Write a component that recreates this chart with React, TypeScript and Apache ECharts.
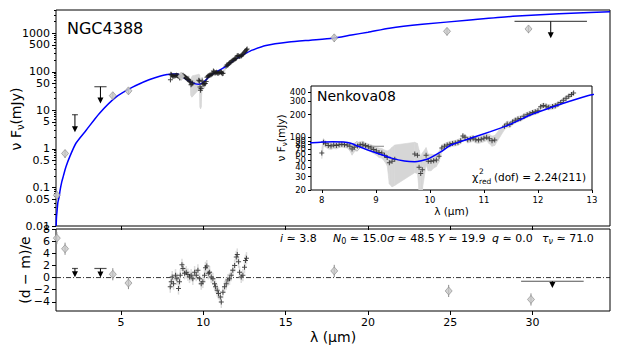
import React, { useEffect, useRef } from "react";
import * as echarts from "echarts";

const FONT = "DejaVu Sans";

// ---- model SED (Nenkova08 fit) ----
const modelLam = [1.06, 1.08, 1.12, 1.16, 1.24, 1.3, 1.4, 1.5, 1.65, 1.9, 2.26, 2.87, 3.67, 4.69, 5.7, 6.7, 7.4, 7.8, 8.0, 8.2, 8.4, 8.55, 8.67, 8.85, 9.04, 9.29, 9.53, 9.72, 9.96, 10.2, 10.39, 10.75, 11.12, 11.49, 11.86, 12.23, 12.6, 12.97, 13.8, 15.2, 16.5, 17.85, 19.0, 20.0, 21.3, 23.3, 26.2, 28.8, 31.6, 34.7];
const modelFlux = [0.01, 0.017, 0.026, 0.04, 0.057, 0.085, 0.14, 0.2, 0.34, 0.65, 1.4, 3.0, 8.2, 22, 40, 62, 78, 85, 86.5, 87.5, 87, 83, 76, 68, 61, 53, 48.5, 47.5, 51.5, 64, 79, 97, 119, 149, 198, 247, 303, 364, 480, 590, 660, 740, 900, 1060, 1350, 1700, 2200, 2750, 3200, 3600];

// ---- IRS spectrum ----
const specLam = [8.0, 8.03, 8.07, 8.12, 8.17, 8.22, 8.27, 8.32, 8.37, 8.42, 8.47, 8.52, 8.56, 8.6, 8.66, 8.71, 8.76, 8.81, 8.86, 8.91, 8.96, 9.01, 9.06, 9.11, 9.16, 9.21, 9.25, 9.3, 9.35, 9.72, 9.77, 9.8, 9.83, 9.86, 9.93, 9.97, 10.02, 10.07, 10.12, 10.17, 10.22, 10.27, 10.32, 10.37, 10.42, 10.47, 10.52, 10.57, 10.61, 10.65, 10.7, 10.75, 10.8, 10.85, 10.9, 10.95, 11.0, 11.05, 11.1, 11.15, 11.2, 11.38, 11.43, 11.48, 11.53, 11.58, 11.63, 11.68, 11.74, 11.8, 11.85, 11.9, 11.95, 12.0, 12.05, 12.1, 12.15, 12.2, 12.27, 12.32, 12.37, 12.42, 12.47, 12.52, 12.57, 12.62, 12.66];
const specFlux = [62, 86, 82, 78, 77, 79, 78, 80, 81, 80, 79, 76, 70, 74, 77, 80, 81, 78, 75, 72, 69, 66, 63, 62, 58, 54, 46, 48, 51, 60, 58, 40, 33, 37, 58, 48, 48, 49, 50, 56, 72, 76, 79, 81, 83, 84, 86, 90, 104, 100, 93, 95, 97, 93, 92, 94, 97, 100, 96, 90, 92, 140, 150, 148, 160, 168, 175, 178, 190, 200, 206, 213, 218, 225, 255, 265, 258, 250, 256, 262, 275, 290, 310, 330, 350, 370, 388];
const specErr = [10, 10, 8, 8, 8, 8, 8, 7, 7, 7, 7, 10, 12, 10, 8, 8, 8, 7, 7, 8, 8, 8, 9, 9, 10, 12, 22, 26, 28, 26, 25, 28, 22, 25, 15, 12, 12, 10, 9, 9, 8, 7, 7, 7, 7, 7, 8, 8, 9, 9, 9, 9, 9, 9, 9, 9, 10, 10, 14, 14, 14, 14, 14, 14, 14, 14, 15, 15, 16, 16, 16, 17, 17, 18, 20, 20, 20, 20, 20, 22, 22, 22, 24, 25, 25, 26, 27];

// ---- photometry ----
const photLam = [1.1, 1.6, 4.5, 5.45, 17.95, 24.8, 29.75];
const photFlux = [0.063, 0.76, 24, 32, 760, 1120, 1290];
const photErr = [0.015, 0.18, 5, 6, 170, 250, 290];
const irsPhotLam = [8.65];
const irsPhotFlux = [76];
const irsPhotLo = [8.62];
const irsPhotHi = [9.15];

// ---- upper limits ----
const limLam = [2.2, 3.75, 31.1];
const limFlux = [7.7, 41, 2020];
const limTip = [2.7, 15, 740];
const limHalfWidth = [0.18, 0.37, 2.2];

// ---- residuals ----
const resPhotLam = [1.1, 1.6, 4.5, 5.45, 17.95, 24.9, 29.9];
const resPhotVal = [6.5, 4.75, 0.55, -0.9, 1.1, -2.2, -3.6];
const resLimLam = [2.2, 3.75, 31.2];
const resLimVal = [1.5, 1.5, -0.6];
const resLimTip = [0.05, 0.0, -1.7];
const resLimHalfWidth = [0.18, 0.37, 1.9];
const resSpecLam = [7.99, 8.05, 8.11, 8.19, 8.31, 8.39, 8.49, 8.55, 8.6, 8.7, 8.76, 8.86, 8.96, 9.06, 9.16, 9.26, 9.36, 9.47, 9.57, 9.67, 9.77, 9.87, 9.97, 10.07, 10.13, 10.21, 10.3, 10.38, 10.48, 10.58, 10.68, 10.74, 10.84, 10.92, 11.03, 11.09, 11.19, 11.29, 11.39, 11.49, 11.59, 11.69, 11.79, 11.9, 12.0, 12.06, 12.14, 12.2, 12.3, 12.4, 12.5, 12.56, 12.62];
const resSpecVal = [-1.5, -0.7, 0.1, -1.0, 0.4, -0.2, -1.8, -0.7, 0.4, 2.1, 1.5, 0.7, 0.9, 0.5, 0.1, 0.4, -0.2, 0.9, 0.4, 1.2, -0.2, -1.0, -0.7, 0.4, 1.6, 1.9, 0.7, 0.9, 0.1, -0.2, -1.0, -1.5, -2.1, -2.6, -3.2, -4.0, -2.4, -1.5, -1.0, -0.4, -0.2, 0.4, 1.2, 2.0, 3.4, 3.8, 2.6, 0.9, 0.1, 0.4, 1.7, 2.8, 3.2];

// ---- ticks ----
const xTicks = [5, 10, 15, 20, 25, 30];
const mainYTicks = [0.01, 0.05, 0.1, 0.5, 1, 5, 10, 50, 100, 500, 1000];
const insetXTicks = [8, 9, 10, 11, 12, 13];
const insetYTicks = [20, 30, 40, 50, 60, 70, 80, 90, 100, 200, 300, 400];
const resYTicks = [-4, -2, 0, 2, 4, 6, 8];

const MAIN_YMIN = 0.01, MAIN_YMAX = 4000;
const INS_YMIN = 20, INS_YMAX = 480;
const XMIN = 1.05, XMAX = 34.7;

const minorTicks: number[] = [];
for (let n = -2; n <= 3; n++) for (let k = 2; k <= 9; k++) {
  const v = Math.log10(k * Math.pow(10, n));
  if (v <= Math.log10(MAIN_YMAX) + 1e-9) minorTicks.push(v);
}

const PLUS = "path://M2,0h1v2h2v1h-2v2h-1v-2h-2v-1h2z";

function bandRender(floor: number, ceil: number) {
  return (params: any, api: any) => {
    const c = (x: number, y: number) => api.coord([x, Math.min(Math.max(y, floor), ceil)]);
    const a = c(api.value(0), api.value(1));
    const b = c(api.value(3), api.value(4));
    const d = c(api.value(3), api.value(5));
    const e = c(api.value(0), api.value(2));
    return { type: "polygon", shape: { points: [a, b, d, e] }, style: { fill: "#d6d6d6", stroke: "#d6d6d6", lineWidth: 0.6 } };
  };
}
function bandData(floor: number) {
  const out: number[][] = [];
  for (let i = 0; i < specLam.length - 1; i++) {
    out.push([specLam[i], Math.max(specFlux[i] - specErr[i], floor), specFlux[i] + specErr[i],
      specLam[i + 1], Math.max(specFlux[i + 1] - specErr[i + 1], floor), specFlux[i + 1] + specErr[i + 1]]);
  }
  return out;
}
function vbarRender(color: string, width: number) {
  return (params: any, api: any) => {
    const p = api.coord([api.value(0), api.value(1)]);
    const q = api.coord([api.value(0), api.value(2)]);
    return { type: "line", shape: { x1: p[0], y1: p[1], x2: q[0], y2: q[1] }, style: { stroke: color, lineWidth: width } };
  };
}
function hbarRender(color: string, width: number) {
  return (params: any, api: any) => {
    const p = api.coord([api.value(0), api.value(2)]);
    const q = api.coord([api.value(1), api.value(2)]);
    return { type: "line", shape: { x1: p[0], y1: p[1], x2: q[0], y2: q[1] }, style: { stroke: color, lineWidth: width } };
  };
}
function limitRender(params: any, api: any) {
  const x = api.value(0), y = api.value(1), tip = api.value(2), hw = api.value(3);
  const p = api.coord([x, y]);
  const t = api.coord([x, tip]);
  const l = api.coord([x - hw, y]);
  const r = api.coord([x + hw, y]);
  return {
    type: "group",
    children: [
      { type: "line", shape: { x1: l[0], y1: l[1], x2: r[0], y2: r[1] }, style: { stroke: "#555", lineWidth: 1.2 } },
      { type: "line", shape: { x1: p[0], y1: p[1], x2: t[0], y2: t[1] - 5 }, style: { stroke: "#000", lineWidth: 1 } },
      { type: "polygon", shape: { points: [[t[0] - 3, t[1] - 6], [t[0] + 3, t[1] - 6], [t[0], t[1]]] }, style: { fill: "#000" } },
    ],
  };
}

const diamondStyle = { color: "#c8c8c8", borderColor: "#8a8a8a", borderWidth: 0.8 };
const tickLabel = { color: "#000", fontFamily: FONT, fontSize: 11 };
const insetLabel = { color: "#000", fontFamily: FONT, fontSize: 8.5 };
const noLine = { show: false, onZero: false };

function rotatedTitle(text: string, x: number, y: number, size: number, rich?: any) {
  return {
    type: "text", x, y, rotation: Math.PI / 2, z: 100,
    style: { text, fontFamily: FONT, fontSize: size, fill: "#000", align: "center", verticalAlign: "middle", lineHeight: size * 1.3, rich },
  };
}

function buildOption() {
  const model = modelLam.map((l, i) => [l, modelFlux[i]]);
  const spec = specLam.map((l, i) => [l, specFlux[i]]);
  const phot = photLam.map((l, i) => [l, photFlux[i]]);
  const photBars = photLam.map((l, i) => [l, photFlux[i] - photErr[i], photFlux[i] + photErr[i]]);
  const lims = limLam.map((l, i) => [l, limFlux[i], limTip[i], limHalfWidth[i]]);
  const irs = irsPhotLam.map((l, i) => [l, irsPhotFlux[i]]);
  const irsBar = irsPhotLam.map((l, i) => [irsPhotLo[i], irsPhotHi[i], irsPhotFlux[i]]);
  const resPhot = resPhotLam.map((l, i) => [l, resPhotVal[i]]);
  const resPhotBars = resPhotLam.map((l, i) => [l, resPhotVal[i] - 1, resPhotVal[i] + 1]);
  const resLims = resLimLam.map((l, i) => [l, resLimVal[i], resLimTip[i], resLimHalfWidth[i]]);
  const resSpec = resSpecLam.map((l, i) => [l, resSpecVal[i]]);
  const resSpecBars = resSpecLam.map((l, i) => [l, resSpecVal[i] - 1, resSpecVal[i] + 1]);

  const subRich = (size: number) => ({ s: { fontFamily: FONT, fontSize: size * 0.7, lineHeight: size * 0.7, verticalAlign: "bottom", fill: "#000" } });
  const gridBase = { show: true, borderColor: "#000", borderWidth: 1, outerBoundsMode: "none", containLabel: false };

  return {
    animation: false,
    textStyle: { fontFamily: FONT },
    grid: [
      { ...gridBase, left: 56, top: 10, width: 554, height: 216, backgroundColor: "transparent" },
      { ...gridBase, left: 56, top: 229, width: 554, height: 82, backgroundColor: "transparent" },
      { ...gridBase, left: 311, top: 86, width: 281, height: 104, backgroundColor: "#fff" },
    ],
    xAxis: [
      { gridIndex: 0, type: "value", position: "bottom", min: XMIN, max: XMAX, axisLine: noLine, splitLine: { show: false },
        axisLabel: { show: false }, axisTick: { show: true, length: 4, customValues: xTicks, lineStyle: { color: "#000" } } },
      { gridIndex: 1, type: "value", position: "bottom", min: XMIN, max: XMAX, axisLine: noLine, splitLine: { show: false },
        axisLabel: { ...tickLabel, customValues: xTicks, margin: 6 },
        axisTick: { show: true, length: 4, customValues: xTicks, lineStyle: { color: "#000" } },
        name: "λ (μm)", nameLocation: "middle", nameGap: 19, nameTextStyle: { fontFamily: FONT, fontSize: 14, color: "#000" } },
      { gridIndex: 2, type: "value", position: "bottom", min: 7.8, max: 13, axisLine: noLine, splitLine: { show: false },
        axisLabel: { ...insetLabel, customValues: insetXTicks, margin: 5 },
        axisTick: { show: true, length: 3, customValues: insetXTicks, lineStyle: { color: "#000" } },
        name: "λ (μm)", nameLocation: "middle", nameGap: 15, nameTextStyle: { fontFamily: FONT, fontSize: 10.5, color: "#000" } },
    ],
    yAxis: [
      { gridIndex: 0, type: "log", logBase: 10, position: "left", min: MAIN_YMIN, max: MAIN_YMAX, show: false, axisLine: noLine },
      { gridIndex: 0, type: "value", position: "left", offset: 0, min: -2, max: Math.log10(MAIN_YMAX), axisLine: noLine, splitLine: { show: false },
        axisLabel: { ...tickLabel, customValues: mainYTicks.map(Math.log10), margin: 6,
          formatter: (v: number) => String(Number(Math.pow(10, v).toPrecision(1))) },
        axisTick: { show: true, length: 4, customValues: mainYTicks.map(Math.log10), lineStyle: { color: "#000" } } },
      { gridIndex: 0, type: "value", position: "left", offset: 0, min: -2, max: Math.log10(MAIN_YMAX), axisLine: noLine, splitLine: { show: false },
        axisLabel: { show: false },
        axisTick: { show: true, length: 2, customValues: minorTicks, lineStyle: { color: "#000" } } },
      { gridIndex: 1, type: "value", position: "left", min: -5.5, max: 8, axisLine: noLine, splitLine: { show: false },
        axisLabel: { ...tickLabel, customValues: resYTicks, margin: 6, formatter: (v: number) => (v < 0 ? "−" + Math.abs(v) : String(v)) },
        axisTick: { show: true, length: 4, customValues: resYTicks, lineStyle: { color: "#000" } } },
      { gridIndex: 2, type: "log", logBase: 10, position: "left", min: INS_YMIN, max: INS_YMAX, show: false, axisLine: noLine },
      { gridIndex: 2, type: "value", position: "left", offset: 0, min: Math.log10(INS_YMIN), max: Math.log10(INS_YMAX), axisLine: noLine, splitLine: { show: false },
        axisLabel: { ...insetLabel, customValues: insetYTicks.map(Math.log10), margin: 5,
          formatter: (v: number) => String(Math.round(Math.pow(10, v))) },
        axisTick: { show: true, length: 3, customValues: insetYTicks.map(Math.log10), lineStyle: { color: "#000" } } },
    ],
    series: [
      // main panel
      { type: "custom", xAxisIndex: 0, yAxisIndex: 0, renderItem: bandRender(MAIN_YMIN, MAIN_YMAX), data: bandData(MAIN_YMIN), clip: true, z: 1, silent: true },
      { type: "line", xAxisIndex: 0, yAxisIndex: 0, data: model, showSymbol: false, smooth: 0.2, lineStyle: { color: "#0000ff", width: 1.5 }, z: 3, clip: true },
      { type: "scatter", xAxisIndex: 0, yAxisIndex: 0, data: spec, symbol: PLUS, symbolSize: 5, itemStyle: { color: "#1a1a1a" }, z: 4 },
      { type: "custom", xAxisIndex: 0, yAxisIndex: 0, renderItem: vbarRender("#8a8a8a", 1), data: photBars, z: 4 },
      { type: "scatter", xAxisIndex: 0, yAxisIndex: 0, data: phot, symbol: "diamond", symbolSize: [7, 8], itemStyle: diamondStyle, z: 5, clip: true },
      { type: "custom", xAxisIndex: 0, yAxisIndex: 0, renderItem: hbarRender("#999", 1), data: irsBar, z: 4 },
      { type: "scatter", xAxisIndex: 0, yAxisIndex: 0, data: irs, symbol: "diamond", symbolSize: [7, 8], itemStyle: { color: "#e6e6e6", borderColor: "#999", borderWidth: 0.8 }, z: 5 },
      { type: "custom", xAxisIndex: 0, yAxisIndex: 0, renderItem: limitRender, data: lims, z: 5 },
      // inset
      { type: "custom", xAxisIndex: 2, yAxisIndex: 4, renderItem: bandRender(INS_YMIN, INS_YMAX), data: bandData(INS_YMIN), clip: true, z: 6, silent: true },
      { type: "custom", xAxisIndex: 2, yAxisIndex: 4, renderItem: hbarRender("#999", 1.2), data: irsBar, z: 7 },
      { type: "scatter", xAxisIndex: 2, yAxisIndex: 4, data: irs, symbol: "diamond", symbolSize: [9, 10], itemStyle: { color: "#e8e8e8", borderColor: "#999", borderWidth: 0.8 }, z: 8 },
      { type: "scatter", xAxisIndex: 2, yAxisIndex: 4, data: spec, symbol: PLUS, symbolSize: 5, itemStyle: { color: "#222" }, z: 8 },
      { type: "line", xAxisIndex: 2, yAxisIndex: 4, data: model, showSymbol: false, smooth: 0.2, lineStyle: { color: "#0000ff", width: 1.5 }, z: 9, clip: true },
      // residuals
      { type: "line", xAxisIndex: 1, yAxisIndex: 3, data: [[XMIN, 0], [XMAX, 0]], showSymbol: false, lineStyle: { color: "#000", width: 0.8, type: [5, 2, 1, 2] }, z: 2 },
      { type: "custom", xAxisIndex: 1, yAxisIndex: 3, renderItem: vbarRender("#dcdcdc", 1.5), data: resSpecBars, z: 3 },
      { type: "scatter", xAxisIndex: 1, yAxisIndex: 3, data: resSpec, symbol: PLUS, symbolSize: 5, itemStyle: { color: "#222" }, z: 4 },
      { type: "custom", xAxisIndex: 1, yAxisIndex: 3, renderItem: vbarRender("#8a8a8a", 1), data: resPhotBars, z: 4 },
      { type: "scatter", xAxisIndex: 1, yAxisIndex: 3, data: resPhot, symbol: "diamond", symbolSize: [7, 8], itemStyle: diamondStyle, z: 5, clip: true },
      { type: "custom", xAxisIndex: 1, yAxisIndex: 3, renderItem: limitRender, data: resLims, z: 5 },
    ],
    graphic: {
      elements: [
        rotatedTitle("ν F{s|ν}(mJy)", 16, 119, 14, subRich(14)),
        rotatedTitle("(d − m)/e", 25, 270, 14),
        rotatedTitle("ν F{s|ν}(mJy)", 281, 138, 10.5, subRich(10.5)),
        { type: "text", left: 67, top: 20, z: 100, style: { text: "NGC4388", fontFamily: FONT, fontSize: 16, fill: "#000" } },
        { type: "text", left: 317, top: 89, z: 100, style: { text: "Nenkova08", fontFamily: FONT, fontSize: 14, fill: "#000" } },
        { type: "text", x: 472, y: 177, z: 100, style: { text: "χ", fontFamily: FONT, fontSize: 11, fill: "#000", verticalAlign: "middle" } },
        { type: "text", x: 479, y: 171, z: 100, style: { text: "2", fontFamily: FONT, fontSize: 7.5, fill: "#000", verticalAlign: "middle" } },
        { type: "text", x: 479, y: 181, z: 100, style: { text: "red", fontFamily: FONT, fontSize: 7.5, fill: "#000", verticalAlign: "middle" } },
        { type: "text", x: 586, y: 177, z: 100, style: { text: "(dof) = 2.24(211)", fontFamily: FONT, fontSize: 10.5, fill: "#000", align: "right", verticalAlign: "middle" } },
        { type: "text", x: 280, y: 238, z: 100, style: { text: "{it|i} ≃ 3.8", fontFamily: FONT, fontSize: 11, fill: "#000", verticalAlign: "middle", lineHeight: 14,
          rich: { it: { fontFamily: FONT, fontSize: 11, fontStyle: "italic" } } } },
        { type: "text", x: 333, y: 238, z: 100, style: { text: "{it|N}{s|0} ≃ 15.0{it|σ} ≃ 48.5", fontFamily: FONT, fontSize: 11, fill: "#000", verticalAlign: "middle", lineHeight: 14,
          rich: { it: { fontFamily: FONT, fontSize: 11, fontStyle: "italic" }, s: { fontFamily: FONT, fontSize: 8, lineHeight: 8, verticalAlign: "bottom" } } } },
        { type: "text", x: 438, y: 238, z: 100, style: { text: "{it|Y} ≃ 19.9", fontFamily: FONT, fontSize: 11, fill: "#000", verticalAlign: "middle", lineHeight: 14,
          rich: { it: { fontFamily: FONT, fontSize: 11, fontStyle: "italic" } } } },
        { type: "text", x: 492, y: 238, z: 100, style: { text: "{it|q} ≃ 0.0", fontFamily: FONT, fontSize: 11, fill: "#000", verticalAlign: "middle", lineHeight: 14,
          rich: { it: { fontFamily: FONT, fontSize: 11, fontStyle: "italic" } } } },
        { type: "text", x: 542, y: 238, z: 100, style: { text: "{it|τ}{s|ν} ≃ 71.0", fontFamily: FONT, fontSize: 11, fill: "#000", verticalAlign: "middle", lineHeight: 14,
          rich: { it: { fontFamily: FONT, fontSize: 11, fontStyle: "italic" }, s: { fontFamily: FONT, fontSize: 8, fontStyle: "italic", lineHeight: 8, verticalAlign: "bottom" } } } },
      ],
    },
  };
}

export default function App() {
  const ref = useRef<HTMLDivElement>(null);
  useEffect(() => {
    if (!ref.current) return;
    const chart = echarts.init(ref.current, undefined, { renderer: "svg" });
    chart.setOption(buildOption() as any);
    return () => chart.dispose();
  }, []);
  return <div ref={ref} style={{ position: "fixed", left: 0, top: 0, width: 623, height: 346, background: "#fff" }} />;
}
